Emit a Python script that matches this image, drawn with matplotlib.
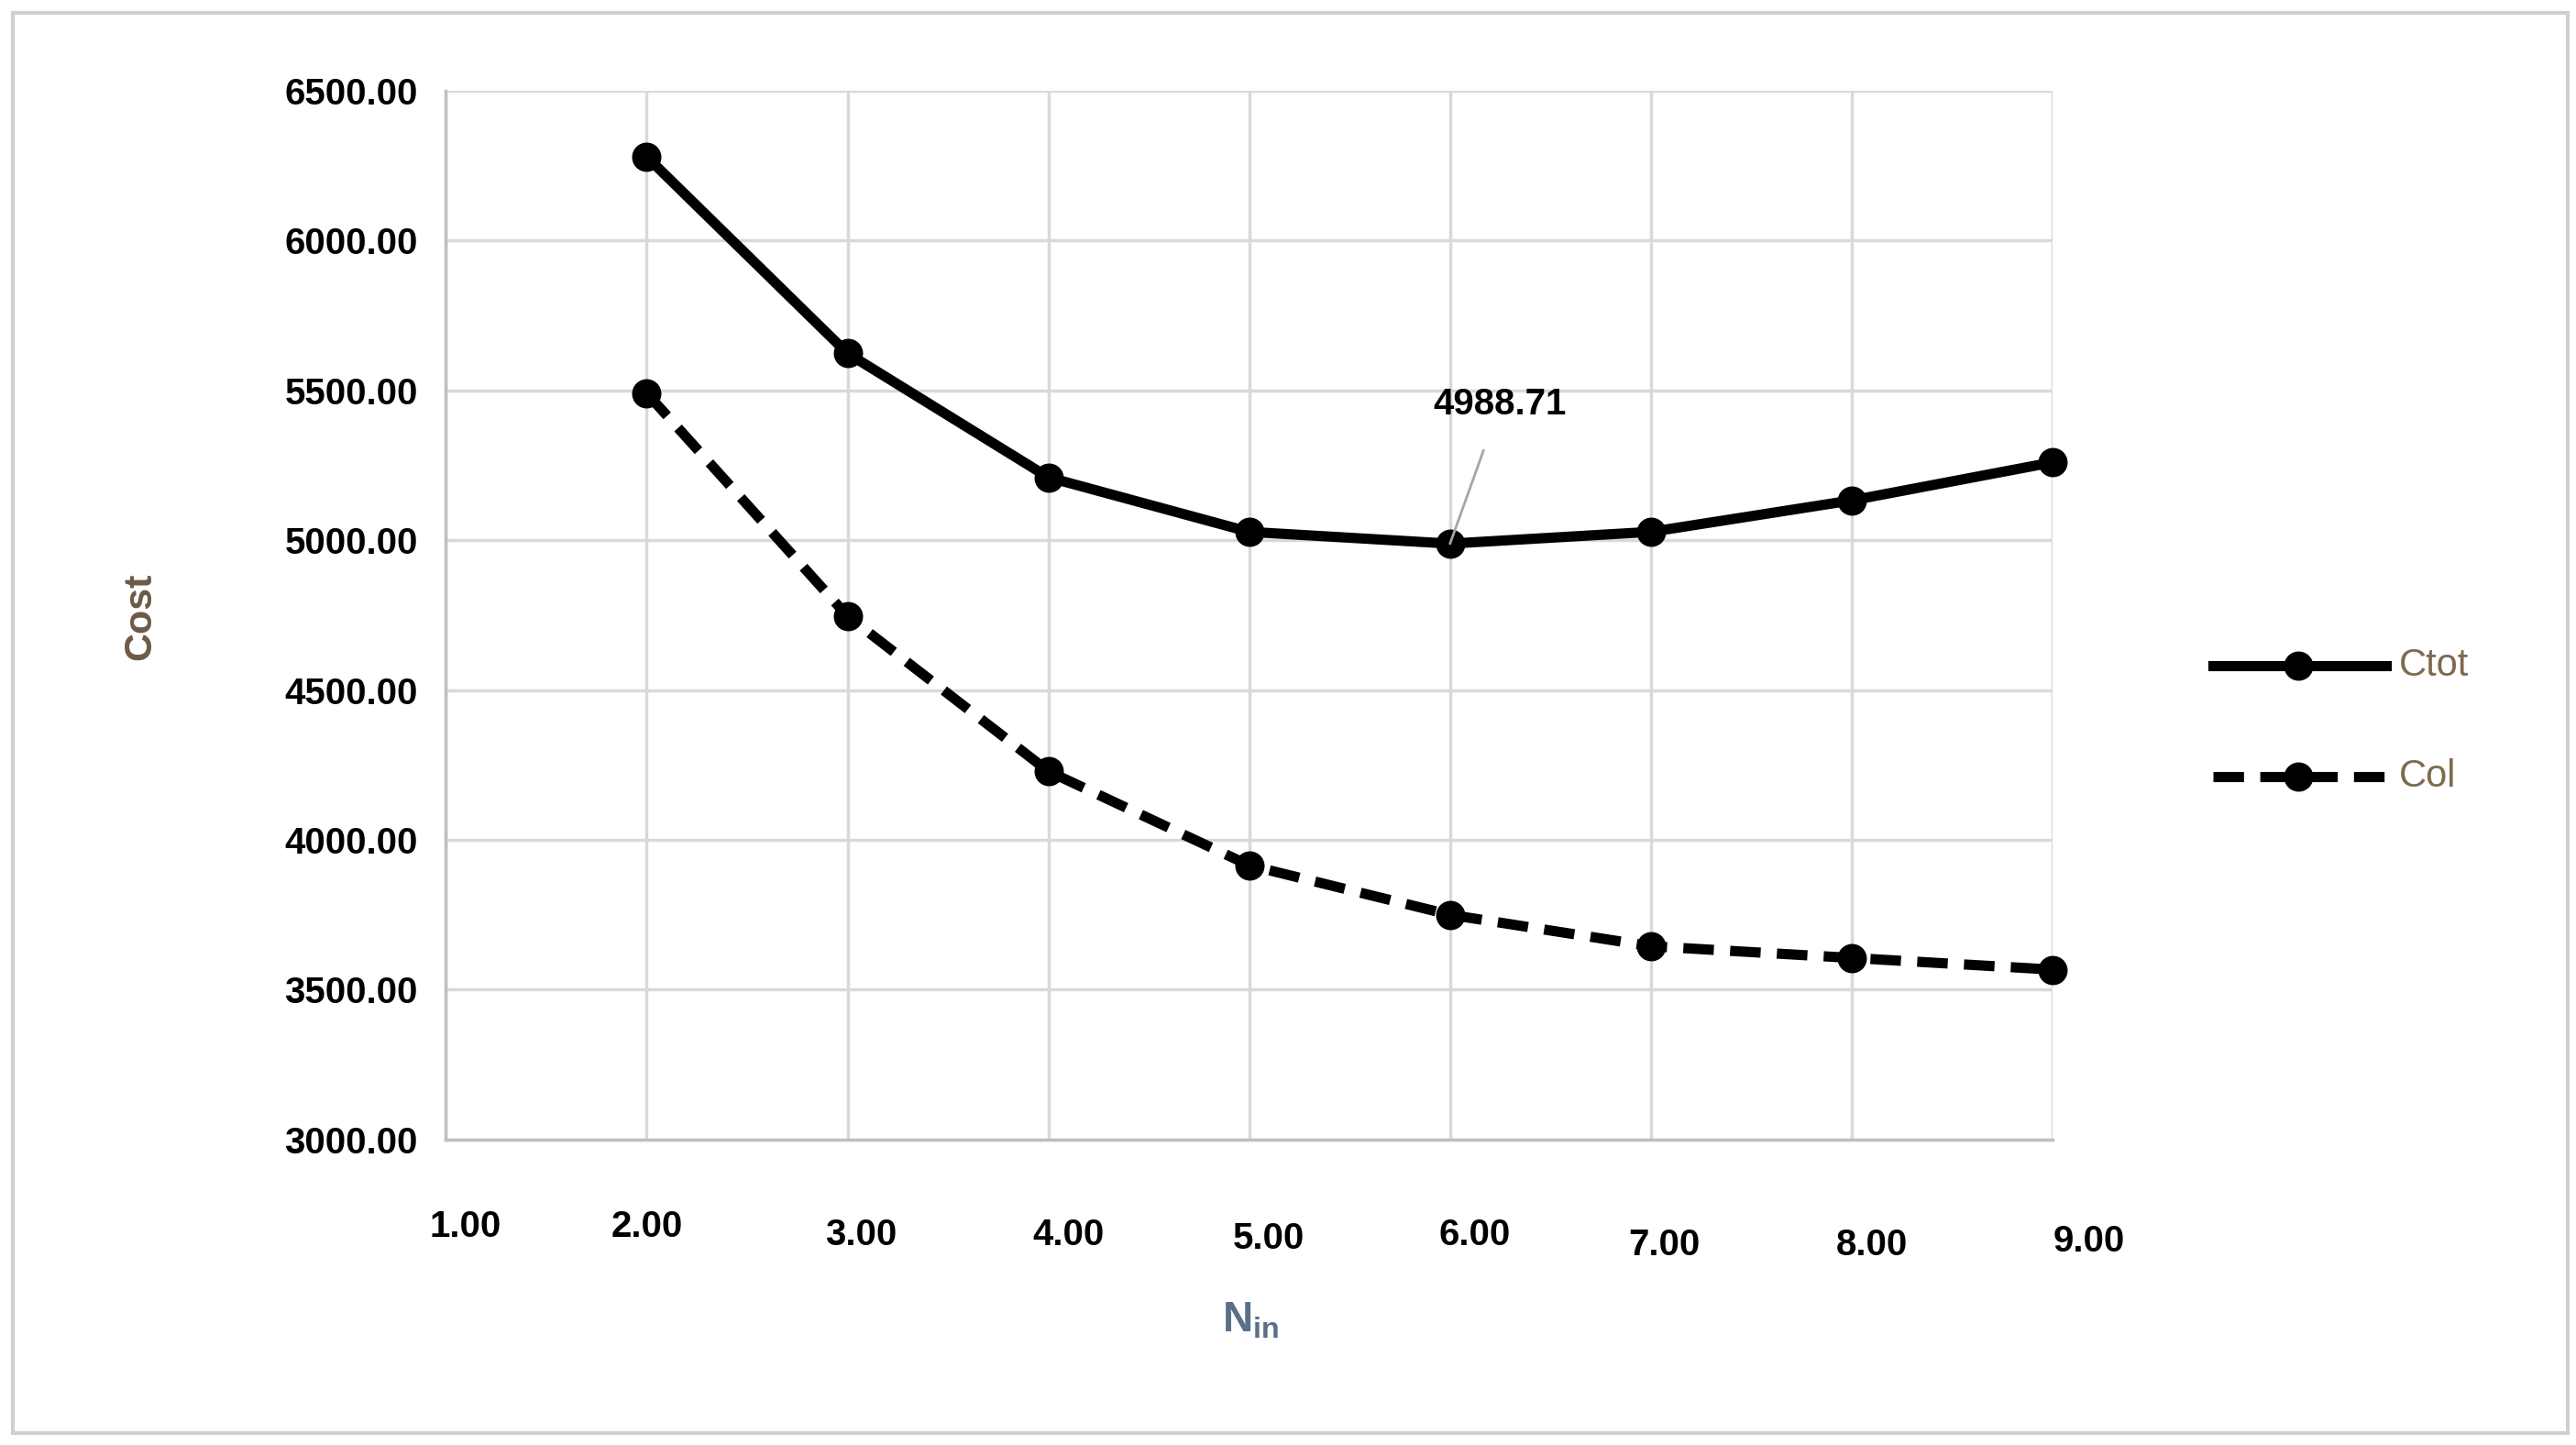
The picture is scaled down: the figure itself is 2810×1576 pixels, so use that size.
import matplotlib
matplotlib.use("Agg")
import matplotlib.pyplot as plt
from matplotlib.patches import Rectangle
from matplotlib.lines import Line2D
import matplotlib.transforms as mtransforms

plt.rcParams['font.family'] = ['Liberation Sans', 'DejaVu Sans']

n_in = [2, 3, 4, 5, 6, 7, 8, 9]
ctot = [6280, 5624, 5210, 5028, 4988.71, 5028, 5133, 5260]
col = [5491, 4747, 4229, 3915, 3750, 3645, 3606, 3567]
xticks = [1, 2, 3, 4, 5, 6, 7, 8, 9]
yticks = [3000, 3500, 4000, 4500, 5000, 5500, 6000, 6500]

W, H = 1560, 875
fig = plt.figure(figsize=(28.10, 15.76), dpi=100)
fig.patches.append(Rectangle((8/W, 1-868/H), 1547/W, 860/H, transform=fig.transFigure,
                             fill=False, edgecolor='#d0d0d0', linewidth=3))
ax = fig.add_axes([270/W, 1-690/H, (1243-270)/W, (690-55)/H])
ax.set_xlim(1, 9)
ax.set_ylim(3000, 6500)
ax.set_xticks(xticks)
ax.set_yticks(yticks)
ax.grid(True, color='#d9d9d9', linewidth=2.5)
ax.set_axisbelow(True)
for s in ['top', 'right']:
    ax.spines[s].set_visible(False)
for s in ['left', 'bottom']:
    ax.spines[s].set_color('#bfbfbf')
    ax.spines[s].set_linewidth(2.5)
ax.tick_params(length=0)
ax.set_yticklabels([f"{v:.2f}" for v in yticks], fontsize=29, fontweight='bold')
ax.tick_params(axis='y', pad=22)
ax.set_xticklabels([])
ypix = [743, 743, 748, 748, 750, 748, 754, 754, 752]
xoff = [12, 0, 8, 12, 12, 15, 8, 12, 22]
trans = mtransforms.blended_transform_factory(ax.transData, ax.transAxes)
for x, py, dx in zip(xticks, ypix, xoff):
    ax.text(x + dx/121.6, (690-py)/635, f"{x:.2f}", transform=trans, ha='center', va='center',
            fontsize=29, fontweight='bold')

ax.plot(n_in, ctot, color='black', linewidth=8, marker='o', markersize=22, clip_on=False)
ax.plot(n_in, col, color='black', linewidth=8, linestyle=(0, (3, 1.6)), marker='o',
        markersize=22, clip_on=False)

ax.annotate(f"{ctot[4]:.2f}", xy=(6, ctot[4]), xytext=(6.25, 5455), ha='center', va='center',
            fontsize=29, fontweight='bold',
            arrowprops=dict(arrowstyle='-', color='#a6a6a6', linewidth=2, shrinkA=22, shrinkB=0))

fig.text(85/W, 1-373/H, "Cost", rotation=90, ha='center', va='center', fontsize=31,
         fontweight='bold', color='#6b5a45')
fig.text(757/W, 1-800/H, r"N$_{\mathregular{in}}$", ha='center', va='center', fontsize=33,
         fontweight='bold', color='#5a7089')

for py, ls, lab in [(403, '-', 'Ctot'), (470, (0, (3, 1.6)), 'Col')]:
    fig.lines.append(Line2D([1340/W, 1445/W], [1-py/H, 1-py/H], transform=fig.transFigure,
                            color='black', linewidth=8, linestyle=ls))
    fig.lines.append(Line2D([1392/W], [1-py/H], transform=fig.transFigure, color='black',
                            marker='o', markersize=22))
    fig.text(1453/W, 1-py/H, lab, ha='left', va='center', fontsize=30, color='#7f6a50')

fig.savefig("out.png", dpi=100)
